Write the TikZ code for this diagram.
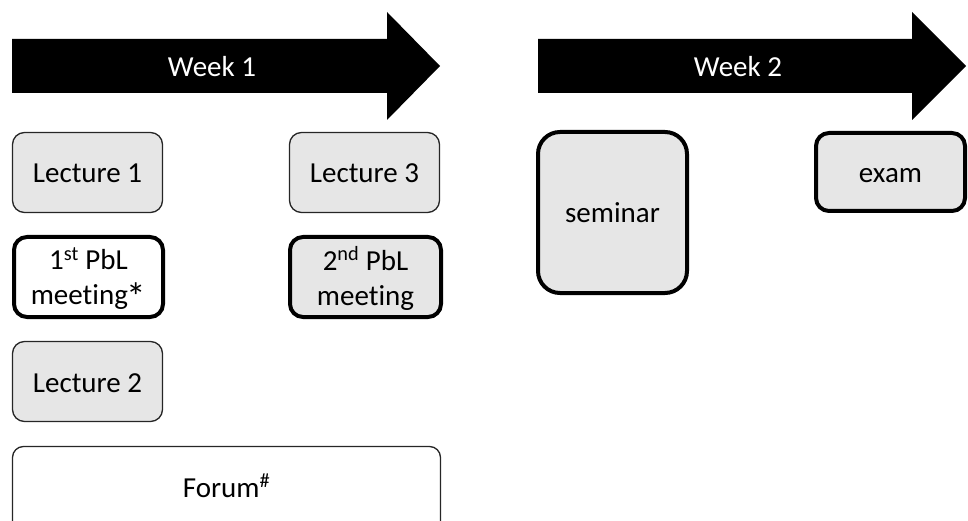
\documentclass[tikz,border=0pt]{standalone}
\usepackage{fontspec}
\setmainfont{Carlito}[Ligatures=NoCommon]
\definecolor{boxgray}{HTML}{E6E6E6}
\definecolor{edgegray}{HTML}{262626}
\tikzset{
  boxfont/.style={font=\fontsize{29pt}{35pt}\selectfont},
  oneline/.style={text height=21pt, text depth=0pt},
  thinbox/.style={draw=edgegray, line width=1.3pt, fill=boxgray, rounded corners=12pt,
    minimum width=150pt, minimum height=80pt, inner sep=0pt, align=center, boxfont},
  thickbox/.style={draw=black, line width=4pt, fill=boxgray, rounded corners=13pt,
    inner sep=0pt, align=center, boxfont},
  weeklabel/.style={text=white, boxfont, inner sep=0pt, text height=21pt, text depth=0pt},
  weekarrow/.style={fill=black}
}
\newcommand{\rast}{\kern-0.04em\raisebox{-0.2em}{\scalebox{1.35}{*}}}
\begin{document}
\begin{tikzpicture}[x=1pt,y=-1pt]
\useasboundingbox (0,0) rectangle (968,521);
\clip (0,0) rectangle (968,521);
% week arrows
\fill[weekarrow] (12,39) -- (387,39) -- (387,12) -- (440,66) -- (387,120) -- (387,93) -- (12,93) -- cycle;
\node[weeklabel] (w1) at (212,66.5) {Week 1};
\fill[weekarrow] (538,39) -- (912,39) -- (912,12) -- (966,66) -- (912,120) -- (912,93) -- (538,93) -- cycle;
\node[weeklabel] (w2) at (738,66.5) {Week 2};
% week 1 boxes
\node[thinbox, oneline] (l1) at (87.5,172.5) {Lecture 1};
\node[thinbox, oneline] (l3) at (364.5,172.5) {Lecture 3};
\node[thickbox, fill=white, minimum width=149pt, minimum height=80pt] (p1) at (88.5,277) {\rule{0pt}{26pt}1\textsuperscript{st} PbL\\meeting\rast};
\node[thickbox, minimum width=151pt, minimum height=80pt] (p2) at (365.5,277) {\rule{0pt}{26pt}2\textsuperscript{nd} PbL\\meeting};
\node[thinbox, oneline] (l2) at (87.5,381.5) {Lecture 2};
\node[thinbox, fill=white, minimum width=428pt, minimum height=86pt, rounded corners=11pt] (forum) at (226.5,489.5) {};
\node[boxfont, inner sep=0pt, oneline] (forumtext) at (226.5,486.5) {Forum\textsuperscript{\#}};
% week 2 boxes
\node[thickbox, oneline, minimum width=149pt, minimum height=161pt, rounded corners=22pt] (sem) at (612.5,212.5) {seminar};
\node[thickbox, oneline, minimum width=149pt, minimum height=78pt] (exam) at (890.5,172) {exam};
\end{tikzpicture}
\end{document}
